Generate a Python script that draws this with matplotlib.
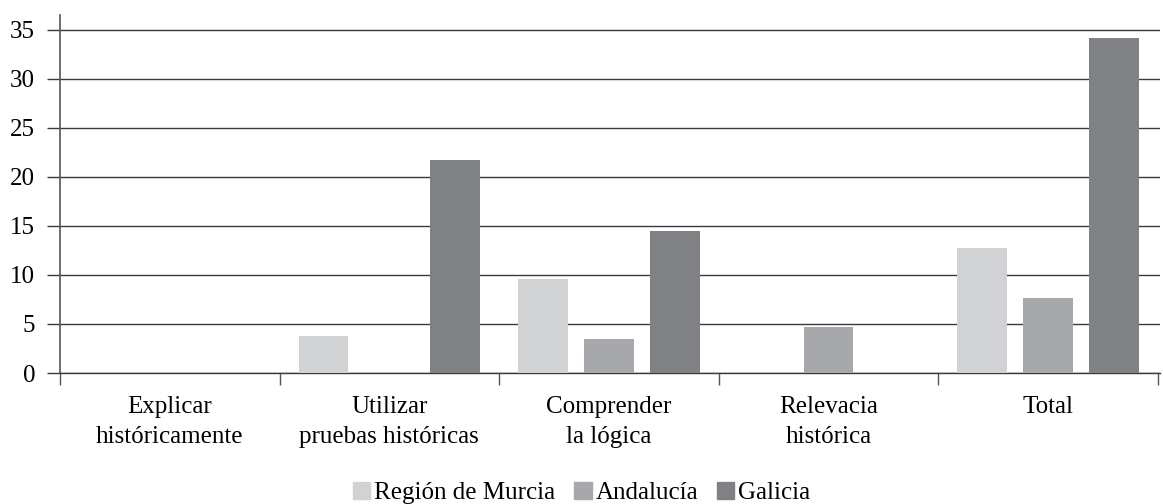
import matplotlib.pyplot as plt
from matplotlib.patches import Patch
import numpy as np

categories = ['Explicar\nhistóricamente', 'Utilizar\npruebas históricas', 'Comprender\nla lógica',
              'Relevacia\nhistórica', 'Total']
series_names = ['Región de Murcia', 'Andalucía', 'Galicia']
murcia = [0, 3.8, 9.6, 0, 12.7]
andalucia = [0, 0, 3.5, 4.7, 7.6]
galicia = [0, 21.7, 14.5, 0, 34.2]
colors = ['#d1d2d4', '#a7a8ab', '#808184']

plt.rcParams['font.family'] = ['Liberation Serif', 'DejaVu Serif']

fig = plt.figure(figsize=(11.63, 5.04), dpi=100)
ax = fig.add_axes([60 / 1163, 1 - 373 / 504, 1100 / 1163, 358 / 504])

x = np.arange(len(categories))
width = 0.227
step = 0.3
ax.set_axisbelow(True)
for i, (vals, name) in enumerate(zip([murcia, andalucia, galicia], series_names)):
    ax.bar(x + (i - 1) * step, vals, width, color=colors[i], label=name, zorder=3)

ax.set_xlim(-0.5, 4.51)
ax.set_ylim(0, 36.5)
ax.set_yticks(range(0, 40, 5))
ax.yaxis.grid(True, color='#3a3a3a', linewidth=1.0)
ax.tick_params(axis='y', length=9.4, width=1.0, color='#3a3a3a', labelsize=18, pad=8.5)

ax.set_xticks(np.arange(-0.5, 5, 1))
ax.set_xticklabels([])
ax.set_xticks(x, minor=True)
ax.set_xticklabels(categories, minor=True, fontsize=18, linespacing=1.45)
ax.tick_params(axis='x', which='major', length=8.6, width=1.0, color='#555555')
ax.tick_params(axis='x', which='minor', length=0, pad=16.5)

for s in ['top', 'right']:
    ax.spines[s].set_visible(False)
ax.spines['left'].set_color('#555555')
ax.spines['left'].set_linewidth(1.2)
ax.spines['bottom'].set_color('#3a3a3a')
ax.spines['bottom'].set_linewidth(1.0)

handles = [Patch(color=c, label=n) for c, n in zip(colors, series_names)]
fig.legend(handles=handles, loc='lower center', bbox_to_anchor=(0.5, -0.045), ncol=3, frameon=False,
           fontsize=18, handlelength=0.7, handleheight=0.7, handletextpad=0.15, columnspacing=0.75)

fig.savefig('out.png', dpi=100)
